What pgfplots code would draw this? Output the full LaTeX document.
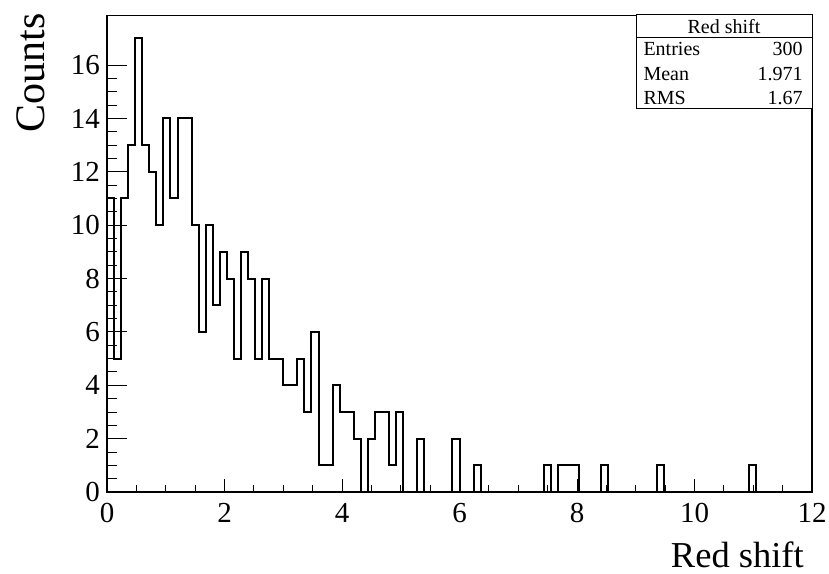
\documentclass[border=0pt]{standalone}
\usepackage{pgfplots}
\pgfplotsset{compat=1.18}
\usepackage{pgfplotstable}
\usepackage{fontspec}
\setmainfont{Liberation Serif}

% Red shift histogram: 100 bins of width 0.12 on [0,12]; x = lower bin edge
\pgfplotstableread{
x     c
0.00  0
0.00  11
0.12  5
0.24  11
0.36  13
0.48  17
0.60  13
0.72  12
0.84  10
0.96  14
1.08  11
1.20  14
1.32  14
1.44  10
1.56  6
1.68  10
1.80  7
1.92  9
2.04  8
2.16  5
2.28  9
2.40  8
2.52  5
2.64  8
2.76  5
2.88  5
3.00  4
3.12  4
3.24  5
3.36  3
3.48  6
3.60  1
3.72  1
3.84  4
3.96  3
4.08  3
4.20  2
4.32  0
4.44  2
4.56  3
4.68  3
4.80  1
4.92  3
5.04  0
5.16  0
5.28  2
5.40  0
5.52  0
5.64  0
5.76  0
5.88  2
6.00  0
6.12  0
6.24  1
6.36  0
6.48  0
6.60  0
6.72  0
6.84  0
6.96  0
7.08  0
7.20  0
7.32  0
7.44  1
7.56  0
7.68  1
7.80  1
7.92  1
8.04  0
8.16  0
8.28  0
8.40  1
8.52  0
8.64  0
8.76  0
8.88  0
9.00  0
9.12  0
9.24  0
9.36  1
9.48  0
9.60  0
9.72  0
9.84  0
9.96  0
10.08 0
10.20 0
10.32 0
10.44 0
10.56 0
10.68 0
10.80 0
10.92 1
11.04 0
11.16 0
11.28 0
11.40 0
11.52 0
11.64 0
11.76 0
11.88 0
12.00 0
}\redshift

\begin{document}
\begin{tikzpicture}
\useasboundingbox (0pt,0pt) rectangle (829pt,573pt);
\begin{axis}[
  at={(107pt,81pt)}, anchor=south west,
  scale only axis, width=705pt, height=476.3pt,
  xmin=0, xmax=12, ymin=0, ymax=17.85,
  xtick={0,2,...,12}, ytick={0,2,...,16},
  minor x tick num=3, minor y tick num=3,
  tick pos=left, tick align=inside,
  axis line style={line width=1.2pt},
  xtick style={black, line width=0.9pt, /pgfplots/major tick length=13pt, /pgfplots/minor tick length=7pt},
  ytick style={black, line width=0.9pt, /pgfplots/major tick length=20pt, /pgfplots/minor tick length=10pt},
  /pgf/number format/assume math mode=true,
  ticklabel style={font=\fontsize{29}{29}\selectfont, inner sep=0pt},
  xticklabel style={yshift=-11pt},
  yticklabel style={xshift=-7pt},
  xlabel={Red shift},
  ylabel={Counts},
  xlabel style={at={(axis description cs:0.98865,-0.1589)}, anchor=base east, inner sep=0pt, font=\fontsize{36.5}{36.5}\selectfont},
  ylabel style={at={(axis description cs:-0.08936,1.0057)}, anchor=base east, inner sep=0pt, font=\fontsize{42}{42}\selectfont},
  clip=false,
]
\addplot[const plot, black, line width=2pt, mark=none] table[x=x, y=c] {\redshift};
\end{axis}

% statistics box
\draw[fill=white, line width=0.8pt] (636pt,465pt) rectangle (812pt,559pt);
\draw[line width=0.8pt] (636pt,536pt) -- (812pt,536pt);
\begin{scope}[every node/.style={inner sep=0pt, font=\fontsize{20}{20}\selectfont}]
\node[anchor=base] at (724pt,539.7pt) {Red shift};
\node[anchor=base west] at (643.3pt,517.3pt) {Entries};
\node[anchor=base east] at (802.7pt,517.3pt) {300};
\node[anchor=base west] at (643.3pt,492pt) {Mean};
\node[anchor=base east] at (802.7pt,492pt) {1.971};
\node[anchor=base west] at (643.3pt,468.7pt) {RMS};
\node[anchor=base east] at (802.7pt,468.7pt) {1.67};
\end{scope}
\end{tikzpicture}
\end{document}
